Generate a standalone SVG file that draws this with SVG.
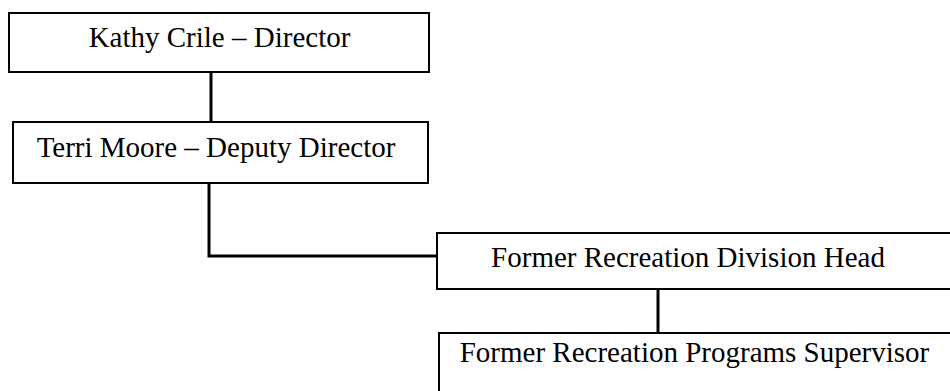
<svg xmlns="http://www.w3.org/2000/svg" width="950" height="391" viewBox="0 0 950 391">
<style>
.box{fill:#fff;stroke:#000;stroke-width:2}
.lbl{font-family:"Liberation Serif","Times New Roman",serif;font-size:29px;fill:#000;text-anchor:middle}
.con{fill:none;stroke:#000;stroke-width:3}
</style>
<rect width="950" height="391" fill="#fff"/>
<g id="connectors">
<line class="con" x1="211" y1="72" x2="211" y2="122"/>
<polyline class="con" points="209,183 209,256 437,256"/>
<line class="con" x1="658" y1="289" x2="658" y2="333"/>
</g>
<g id="n1">
<rect class="box" x="9" y="13" width="420" height="59"/>
<text class="lbl" x="219.5" y="47">Kathy Crile – Director</text>
</g>
<g id="n2">
<rect class="box" x="13" y="122" width="415" height="61"/>
<text class="lbl" x="216" y="157">Terri Moore – Deputy Director</text>
</g>
<g id="n3">
<rect class="box" x="437" y="233" width="520" height="56"/>
<text class="lbl" x="688" y="267">Former Recreation Division Head</text>
</g>
<g id="n4">
<rect class="box" x="439" y="333" width="520" height="70"/>
<text class="lbl" x="694.5" y="362">Former Recreation Programs Supervisor</text>
</g>
</svg>
